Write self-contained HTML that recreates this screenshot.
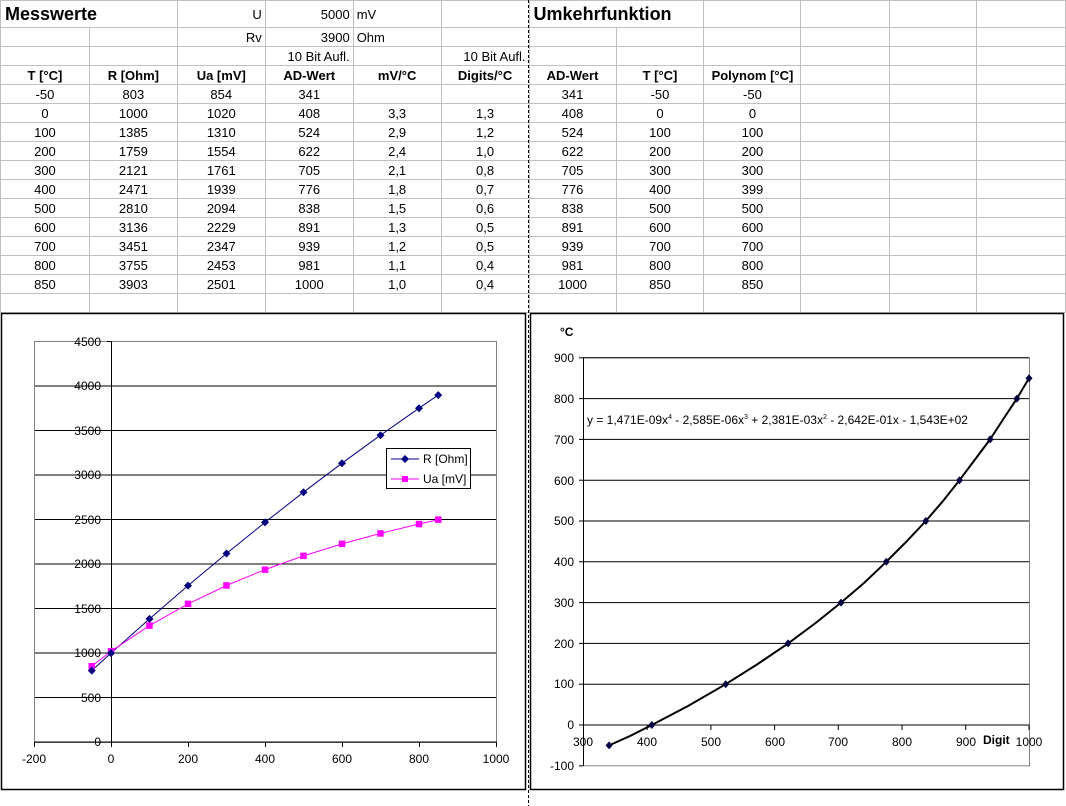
<!DOCTYPE html>
<html><head><meta charset="utf-8"><style>
body{margin:0;width:1066px;height:806px;overflow:hidden;background:#fff;font-family:"Liberation Sans",Arial,sans-serif;position:relative}
table{position:absolute;left:0;top:0;border-collapse:collapse;table-layout:fixed;font-size:13px}
td{border:1px solid #c0c0c0;height:18px;padding:0 3px;text-align:center;white-space:nowrap;overflow:visible;color:#000}
tr.t td{height:26px}
.r{text-align:right}.l{text-align:left}.b{font-weight:bold}
.h{font-weight:bold;font-size:18px;text-align:left;padding-left:4px}
svg{position:absolute;left:0;top:0}
svg text{font-family:"Liberation Sans",Arial,sans-serif;font-size:12px}
</style></head><body>
<table>
<colgroup><col style="width:89px"><col style="width:88px"><col style="width:88px"><col style="width:88px"><col style="width:88px"><col style="width:88px"><col style="width:87px"><col style="width:88px"><col style="width:97px"><col style="width:89px"><col style="width:87px"><col style="width:89px"></colgroup>
<tr class="t"><td class="h" colspan="2" style="border-right:none">Messwerte</td><td class="r">U</td><td class="r">5000</td><td class="l">mV</td><td></td><td class="h" colspan="2">Umkehrfunktion</td><td></td><td></td><td></td><td></td></tr>
<tr><td></td><td></td><td class="r">Rv</td><td class="r">3900</td><td class="l">Ohm</td><td></td><td></td><td></td><td></td><td></td><td></td><td></td></tr>
<tr><td></td><td></td><td></td><td class="r">10 Bit Aufl.</td><td></td><td class="r">10 Bit Aufl.</td><td></td><td></td><td></td><td></td><td></td><td></td></tr>
<tr class="b"><td>T [°C]</td><td>R [Ohm]</td><td>Ua [mV]</td><td>AD-Wert</td><td>mV/°C</td><td>Digits/°C</td><td>AD-Wert</td><td>T [°C]</td><td>Polynom [°C]</td><td></td><td></td><td></td></tr>
<tr><td>-50</td><td>803</td><td>854</td><td>341</td><td></td><td></td><td>341</td><td>-50</td><td>-50</td><td></td><td></td><td></td></tr>
<tr><td>0</td><td>1000</td><td>1020</td><td>408</td><td>3,3</td><td>1,3</td><td>408</td><td>0</td><td>0</td><td></td><td></td><td></td></tr>
<tr><td>100</td><td>1385</td><td>1310</td><td>524</td><td>2,9</td><td>1,2</td><td>524</td><td>100</td><td>100</td><td></td><td></td><td></td></tr>
<tr><td>200</td><td>1759</td><td>1554</td><td>622</td><td>2,4</td><td>1,0</td><td>622</td><td>200</td><td>200</td><td></td><td></td><td></td></tr>
<tr><td>300</td><td>2121</td><td>1761</td><td>705</td><td>2,1</td><td>0,8</td><td>705</td><td>300</td><td>300</td><td></td><td></td><td></td></tr>
<tr><td>400</td><td>2471</td><td>1939</td><td>776</td><td>1,8</td><td>0,7</td><td>776</td><td>400</td><td>399</td><td></td><td></td><td></td></tr>
<tr><td>500</td><td>2810</td><td>2094</td><td>838</td><td>1,5</td><td>0,6</td><td>838</td><td>500</td><td>500</td><td></td><td></td><td></td></tr>
<tr><td>600</td><td>3136</td><td>2229</td><td>891</td><td>1,3</td><td>0,5</td><td>891</td><td>600</td><td>600</td><td></td><td></td><td></td></tr>
<tr><td>700</td><td>3451</td><td>2347</td><td>939</td><td>1,2</td><td>0,5</td><td>939</td><td>700</td><td>700</td><td></td><td></td><td></td></tr>
<tr><td>800</td><td>3755</td><td>2453</td><td>981</td><td>1,1</td><td>0,4</td><td>981</td><td>800</td><td>800</td><td></td><td></td><td></td></tr>
<tr><td>850</td><td>3903</td><td>2501</td><td>1000</td><td>1,0</td><td>0,4</td><td>1000</td><td>850</td><td>850</td><td></td><td></td><td></td></tr>
<tr><td></td><td></td><td></td><td></td><td></td><td></td><td></td><td></td><td></td><td></td><td></td><td></td></tr>
</table>
<svg width="1066" height="806" viewBox="0 0 1066 806">
<line x1="528.5" y1="0" x2="528.5" y2="806" stroke="#000" stroke-dasharray="3,2"/>
<!-- left chart -->
<rect x="1.5" y="313.5" width="524" height="476" fill="#fff" stroke="#000" stroke-width="1.5"/>
<rect x="34.5" y="341.5" width="462" height="401" fill="#fff" stroke="#808080"/>
<g stroke="#000" stroke-width="1">
<line x1="35" y1="386" x2="496" y2="386"/><line x1="35" y1="430.5" x2="496" y2="430.5"/><line x1="35" y1="475" x2="496" y2="475"/><line x1="35" y1="519.5" x2="496" y2="519.5"/><line x1="35" y1="564" x2="496" y2="564"/><line x1="35" y1="608.5" x2="496" y2="608.5"/><line x1="35" y1="653" x2="496" y2="653"/><line x1="35" y1="697.5" x2="496" y2="697.5"/>
<line x1="34.5" y1="742" x2="496.5" y2="742"/>
<line x1="111.5" y1="341" x2="111.5" y2="742"/>
<line x1="107" y1="341.5" x2="111" y2="341.5"/><line x1="107" y1="386" x2="111" y2="386"/><line x1="107" y1="430.5" x2="111" y2="430.5"/><line x1="107" y1="475" x2="111" y2="475"/><line x1="107" y1="519.5" x2="111" y2="519.5"/><line x1="107" y1="564" x2="111" y2="564"/><line x1="107" y1="608.5" x2="111" y2="608.5"/><line x1="107" y1="653" x2="111" y2="653"/><line x1="107" y1="697.5" x2="111" y2="697.5"/><line x1="107" y1="742" x2="111" y2="742"/>
<line x1="34.5" y1="742" x2="34.5" y2="747"/><line x1="111.5" y1="742" x2="111.5" y2="747"/><line x1="188.5" y1="742" x2="188.5" y2="747"/><line x1="265.5" y1="742" x2="265.5" y2="747"/><line x1="342.5" y1="742" x2="342.5" y2="747"/><line x1="419.5" y1="742" x2="419.5" y2="747"/><line x1="496.5" y1="742" x2="496.5" y2="747"/>
</g>
<g text-anchor="end">
<text x="101" y="346">4500</text><text x="101" y="390">4000</text><text x="101" y="435">3500</text><text x="101" y="479">3000</text><text x="101" y="524">2500</text><text x="101" y="568">2000</text><text x="101" y="613">1500</text><text x="101" y="657">1000</text><text x="101" y="702">500</text><text x="101" y="746">0</text>
</g>
<g text-anchor="middle">
<text x="34" y="763">-200</text><text x="111" y="763">0</text><text x="188" y="763">200</text><text x="265" y="763">400</text><text x="342" y="763">600</text><text x="419" y="763">800</text><text x="496" y="763">1000</text>
</g>
<g transform="translate(0,2)">
<polyline fill="none" stroke="#000080" points="91.75,668.6 111,651.1 149.5,616.9 188,583.6 226.5,551.5 265,520.4 303.5,490.2 342,461.2 380.5,433.2 419,406.2 438.25,393.1"/>
<polyline fill="none" stroke="#ff00ff" points="91.75,664.1 111,649.3 149.5,623.6 188,601.9 226.5,583.5 265,567.6 303.5,553.9 342,541.9 380.5,531.4 419,522 438.25,517.7"/>
<g fill="#ff00ff">
<rect x="88.5" y="661" width="6.5" height="6.5"/><rect x="107.8" y="646" width="6.5" height="6.5"/><rect x="146.2" y="620.4" width="6.5" height="6.5"/><rect x="184.8" y="598.6" width="6.5" height="6.5"/><rect x="223.2" y="580.2" width="6.5" height="6.5"/><rect x="261.8" y="564.4" width="6.5" height="6.5"/><rect x="300.2" y="550.6" width="6.5" height="6.5"/><rect x="338.8" y="538.6" width="6.5" height="6.5"/><rect x="377.2" y="528.2" width="6.5" height="6.5"/><rect x="415.8" y="518.8" width="6.5" height="6.5"/><rect x="435" y="514.4" width="6.5" height="6.5"/>
</g>
<g fill="#000080">
<path d="M91.75,664.6l4,4l-4,4l-4,-4z"/><path d="M111,647.1l4,4l-4,4l-4,-4z"/><path d="M149.5,612.9l4,4l-4,4l-4,-4z"/><path d="M188,579.6l4,4l-4,4l-4,-4z"/><path d="M226.5,547.5l4,4l-4,4l-4,-4z"/><path d="M265,516.4l4,4l-4,4l-4,-4z"/><path d="M303.5,486.2l4,4l-4,4l-4,-4z"/><path d="M342,457.2l4,4l-4,4l-4,-4z"/><path d="M380.5,429.2l4,4l-4,4l-4,-4z"/><path d="M419,402.2l4,4l-4,4l-4,-4z"/><path d="M438.25,389.1l4,4l-4,4l-4,-4z"/>
</g>
</g>
<rect x="386.5" y="448.5" width="84" height="40" fill="#fff" stroke="#000"/>
<line x1="391" y1="459" x2="419" y2="459" stroke="#000080"/><path d="M405,455l4,4l-4,4l-4,-4z" fill="#000080"/>
<line x1="391" y1="479" x2="419" y2="479" stroke="#ff00ff"/><rect x="402" y="476" width="6" height="6" fill="#ff00ff"/>
<text x="423" y="463" font-size="11">R [Ohm]</text><text x="423" y="483" font-size="11">Ua [mV]</text>
<!-- right chart -->
<rect x="530.5" y="313.5" width="533" height="476" fill="#fff" stroke="#000" stroke-width="1.5"/>
<rect x="583.5" y="357.8" width="446" height="408" fill="#fff" stroke="#808080"/>
<g stroke="#000">
<line x1="583" y1="357.8" x2="1029" y2="357.8"/><line x1="583" y1="398.6" x2="1029" y2="398.6"/><line x1="583" y1="439.4" x2="1029" y2="439.4"/><line x1="583" y1="480.2" x2="1029" y2="480.2"/><line x1="583" y1="521" x2="1029" y2="521"/><line x1="583" y1="561.8" x2="1029" y2="561.8"/><line x1="583" y1="602.6" x2="1029" y2="602.6"/><line x1="583" y1="643.4" x2="1029" y2="643.4"/><line x1="583" y1="684.2" x2="1029" y2="684.2"/><line x1="583" y1="725" x2="1029" y2="725"/>
<line x1="583.5" y1="357.8" x2="583.5" y2="766"/>
<line x1="579" y1="357.8" x2="583" y2="357.8"/><line x1="579" y1="398.6" x2="583" y2="398.6"/><line x1="579" y1="439.4" x2="583" y2="439.4"/><line x1="579" y1="480.2" x2="583" y2="480.2"/><line x1="579" y1="521" x2="583" y2="521"/><line x1="579" y1="561.8" x2="583" y2="561.8"/><line x1="579" y1="602.6" x2="583" y2="602.6"/><line x1="579" y1="643.4" x2="583" y2="643.4"/><line x1="579" y1="684.2" x2="583" y2="684.2"/><line x1="579" y1="725" x2="583" y2="725"/><line x1="579" y1="765.8" x2="583" y2="765.8"/>
<line x1="583.5" y1="725" x2="583.5" y2="730"/><line x1="647.2" y1="725" x2="647.2" y2="730"/><line x1="710.9" y1="725" x2="710.9" y2="730"/><line x1="774.6" y1="725" x2="774.6" y2="730"/><line x1="838.3" y1="725" x2="838.3" y2="730"/><line x1="902" y1="725" x2="902" y2="730"/><line x1="965.7" y1="725" x2="965.7" y2="730"/><line x1="1029" y1="725" x2="1029" y2="730"/>
</g>
<text x="560" y="336" font-size="10" font-weight="bold">°C</text>
<g text-anchor="end">
<text x="574" y="362">900</text><text x="574" y="403">800</text><text x="574" y="444">700</text><text x="574" y="485">600</text><text x="574" y="525">500</text><text x="574" y="566">400</text><text x="574" y="607">300</text><text x="574" y="648">200</text><text x="574" y="688">100</text><text x="574" y="729">0</text><text x="574" y="770">-100</text>
</g>
<g text-anchor="middle">
<text x="583" y="746">300</text><text x="647" y="746">400</text><text x="711" y="746">500</text><text x="775" y="746">600</text><text x="838" y="746">700</text><text x="902" y="746">800</text><text x="966" y="746">900</text><text x="1029" y="746">1000</text>
</g>
<text x="983" y="744" font-size="11" font-weight="bold">Digit</text>
<text x="587" y="424" font-size="11">y = 1,471E-09x<tspan font-size="7" dy="-5">4</tspan><tspan dy="5"> - 2,585E-06x</tspan><tspan font-size="7" dy="-5">3</tspan><tspan dy="5"> + 2,381E-03x</tspan><tspan font-size="7" dy="-5">2</tspan><tspan dy="5"> - 2,642E-01x - 1,543E+02</tspan></text>
<polyline fill="none" stroke="#000" stroke-width="2" points="609.1,745.4 630,736 651.8,725 688,706 725.7,684.2 757,664.5 788.1,643.4 815,623.5 841,602.6 864,583 886.3,561.8 906,542 925.8,521 943,501 959.5,480.2 975,459.5 990.1,439.4 1004,418 1016.9,398.6 1029,378.2"/>
<g fill="#000040">
<path d="M609.1,741.4l3.5,4l-3.5,4l-3.5,-4z"/><path d="M651.8,721l3.5,4l-3.5,4l-3.5,-4z"/><path d="M725.7,680.2l3.5,4l-3.5,4l-3.5,-4z"/><path d="M788.1,639.4l3.5,4l-3.5,4l-3.5,-4z"/><path d="M841,598.6l3.5,4l-3.5,4l-3.5,-4z"/><path d="M886.3,557.8l3.5,4l-3.5,4l-3.5,-4z"/><path d="M925.8,517l3.5,4l-3.5,4l-3.5,-4z"/><path d="M959.5,476.2l3.5,4l-3.5,4l-3.5,-4z"/><path d="M990.1,435.4l3.5,4l-3.5,4l-3.5,-4z"/><path d="M1016.9,394.6l3.5,4l-3.5,4l-3.5,-4z"/><path d="M1029,374.2l3.5,4l-3.5,4l-3.5,-4z"/>
</g>
</svg>
</body></html>
